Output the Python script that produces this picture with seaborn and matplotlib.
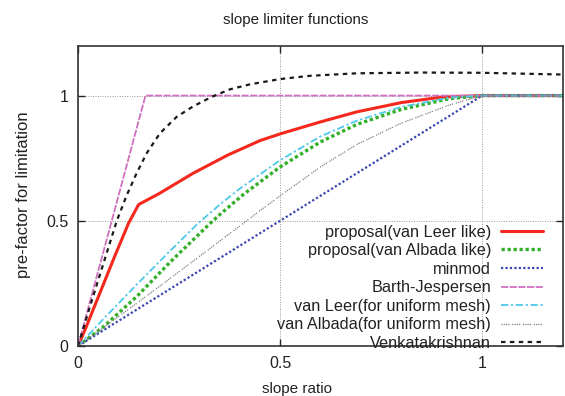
import matplotlib
matplotlib.use("Agg")
import matplotlib.pyplot as plt
import seaborn as sns

# ---- data ----
labels = ["proposal(van Leer like)", "proposal(van Albada like)", "minmod",
          "Barth-Jespersen", "van Leer(for uniform mesh)",
          "van Albada(for uniform mesh)", "Venkatakrishnan"]

x_prop_vl = [0, 0.02, 0.05, 0.09, 0.125, 0.15, 0.2, 0.285, 0.37, 0.45, 0.5, 0.6, 0.69, 0.8, 0.9, 1.0, 1.2]
y_prop_vl = [0, 0.075, 0.195, 0.355, 0.49, 0.565, 0.608, 0.69, 0.762, 0.82, 0.847, 0.895, 0.935, 0.972, 0.994, 1.0, 1.0]

x_prop_va = [0, 0.063, 0.145, 0.228, 0.327, 0.351, 0.409, 0.5, 0.6, 0.69, 0.8, 0.92, 1.0, 1.2]
y_prop_va = [0, 0.077, 0.197, 0.335, 0.49, 0.525, 0.605, 0.715, 0.815, 0.885, 0.945, 0.988, 1.0, 1.0]

x_minmod = [0, 1.0, 1.2]
y_minmod = [0, 1.0, 1.0]

x_bj = [0, 0.167, 1.2]
y_bj = [0, 1.0, 1.0]

x_vl = [0, 0.063, 0.145, 0.228, 0.294, 0.351, 0.4, 0.5, 0.6, 0.69, 0.8, 0.92, 1.0, 1.2]
y_vl = [0, 0.108, 0.245, 0.38, 0.485, 0.565, 0.628, 0.742, 0.837, 0.9, 0.955, 0.992, 1.0, 1.0]

x_va = [0, 0.145, 0.228, 0.327, 0.45, 0.5, 0.6, 0.69, 0.8, 0.92, 1.0, 1.2]
y_va = [0, 0.17, 0.27, 0.39, 0.54, 0.6, 0.715, 0.805, 0.89, 0.963, 1.0, 1.0]

x_venk = [0, 0.03, 0.063, 0.096, 0.12, 0.145, 0.17, 0.203, 0.244, 0.285, 0.331, 0.376, 0.426, 0.5, 0.574, 0.69, 0.85, 1.0, 1.2]
y_venk = [0, 0.16, 0.33, 0.5, 0.6, 0.69, 0.77, 0.85, 0.915, 0.957, 0.995, 1.025, 1.045, 1.066, 1.079, 1.089, 1.092, 1.091, 1.084]

ticks = [0, 0.5, 1]
tick_labels = ["0", "0.5", "1"]

# ---- styling ----
sns.set_style("ticks")
plt.rcParams["font.family"] = ["Liberation Sans", "DejaVu Sans"]

fig = plt.figure(figsize=(5.65, 3.96), dpi=100)
ax = fig.add_axes([78 / 565, 50 / 396, 485 / 565, 300.5 / 396])

series = [
    (x_prop_vl, y_prop_vl, "#f4281c", "-", 2.2),
    (x_prop_va, y_prop_va, "#35b02a", (0, (1.0, 0.8)), 2.4),
    (x_minmod, y_minmod, "#3a46b0", (0, (1.0, 1.0)), 1.6),
    (x_bj, y_bj, "#d070c0", (0, (4, 0.8)), 1.3),
    (x_vl, y_vl, "#4cc8ea", (0, (4, 1.5, 1.2, 1.5)), 1.3),
    (x_va, y_va, "#808080", (0, (1, 0.8, 1, 0.8, 1, 0.8, 1, 2.2)), 0.9),
    (x_venk, y_venk, "#1a1a1a", (0, (2, 2)), 1.6),
]

for (xs, ys, c, ls, lw), lab in zip(series, labels):
    sns.lineplot(x=xs, y=ys, ax=ax, color=c, linestyle=ls, linewidth=lw,
                 label=lab, estimator=None, sort=False)

ax.set_xlim(0, 1.2)
ax.set_ylim(0, 1.2)
ax.set_xticks(ticks)
ax.set_xticklabels(tick_labels)
ax.set_yticks(ticks)
ax.set_yticklabels(tick_labels)
ax.tick_params(direction="in", length=5, width=1, top=True, right=True,
               labelsize=11.5, colors="#222222", pad=7)
ax.tick_params(axis="y", pad=7)
ax.grid(True, linestyle=(0, (1, 1.5)), color="#999999", linewidth=0.7)
for sp in ax.spines.values():
    sp.set_visible(True)
    sp.set_color("#333333")
    sp.set_linewidth(1.2)

ax.set_title("slope limiter functions", fontsize=10.9, color="#222222", y=1.07, pad=0)
ax.title.set_x((296 - 78) / 485)
ax.set_xlabel("slope ratio", fontsize=11, color="#222222")
ax.xaxis.set_label_coords((297 - 78) / 485, (346 - 382) / 300)
ax.set_ylabel("pre-factor for limitation", fontsize=12, color="#222222")
ax.yaxis.set_label_coords((31 - 78) / 485, (346 - 195) / 300)

leg = ax.legend(loc="lower right", bbox_to_anchor=((543 - 78) / 485, (346 - 351) / 300),
                markerfirst=False, frameon=False, fontsize=11.7, handlelength=2.6,
                handletextpad=0.6, labelspacing=0.22, borderpad=0, borderaxespad=0)
for t in leg.get_texts():
    t.set_color("#222222")

fig.savefig("out.png", dpi=100)
